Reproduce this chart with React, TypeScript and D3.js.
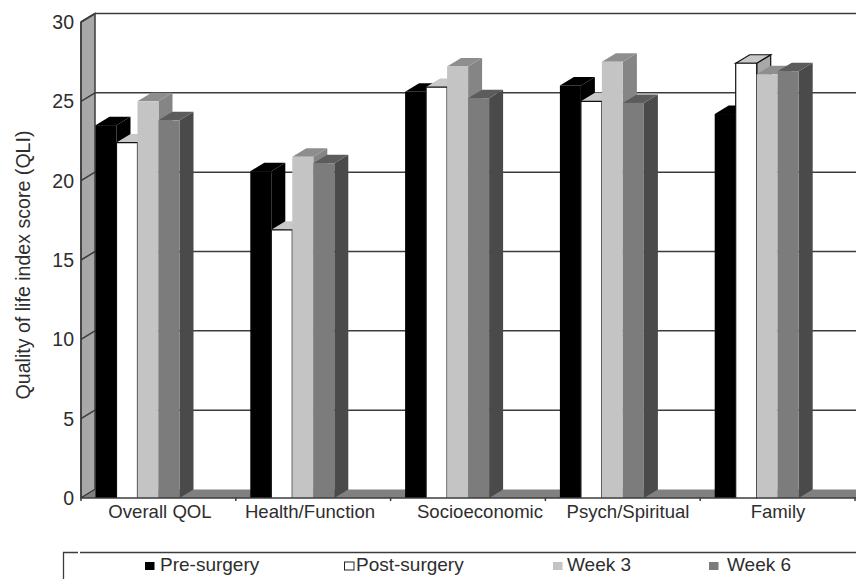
import React from 'react';
import * as d3 from 'd3';

// Quality of life index scores by domain and assessment time
const categories = ['Overall QOL', 'Health/Function', 'Socioeconomic', 'Psych/Spiritual', 'Family'];
const seriesNames = ['Pre-surgery', 'Post-surgery', 'Week 3', 'Week 6'];
const preSurgery = [23.5, 20.6, 25.6, 26.0, 24.2];
const postSurgery = [22.4, 16.9, 25.9, 25.0, 27.4];
const week3 = [25.0, 21.5, 27.2, 27.5, 26.7];
const week6 = [23.8, 21.1, 25.2, 24.9, 26.9];
const yTicks = [0, 5, 10, 15, 20, 25, 30];
const seriesValues = [preSurgery, postSurgery, week3, week6];

const fronts = ['#000000', '#ffffff', '#c4c4c4', '#7c7c7c'];
const tops = ['#000000', '#c8c8c8', '#8e8e8e', '#5c5c5c'];
const sides = ['#000000', '#a8a8a8', '#858585', '#4a4a4a'];
const legendFills = ['#000000', '#ffffff', '#c4c4c4', '#7c7c7c'];
const legendX = [145, 344.5, 553, 709];
const legendTextX = [160, 356, 567, 727];
const labelCenters = [160, 310, 480, 628, 778];

const FONT = '"Liberation Sans", Arial, sans-serif';
const TEXT = '#2e2e2e';
const LINE = '#3c3c3c';

const depthX = 14;
const depthY = -8.5;
const left = 81;
const right = 855;
const baseY = 498;
const topY = 22;
const barW = 21;
const barInset = 14.5;

const y = d3.scaleLinear().domain([0, 30]).range([baseY, topY]);
const x = d3.scaleBand<string>().domain(categories).range([left, right]).padding(0);
const poly = (pts: [number, number][]) => (d3.line()(pts) ?? '') + 'Z';

export default function App() {
  return (
    <svg
      width={856}
      height={579}
      style={{ position: 'absolute', left: 0, top: 0, background: '#fff' }}
      fontFamily={FONT}
    >
      {/* side wall */}
      <path
        d={poly([[left, y(30)], [left + depthX, y(30) + depthY], [left + depthX, baseY + depthY], [left, baseY]])}
        fill="#a8a8a8"
        stroke={LINE}
        strokeWidth={1.5}
      />
      {/* floor */}
      <path
        d={poly([[left, baseY], [left + depthX, baseY + depthY], [856, baseY + depthY], [856, baseY]])}
        fill="#808080"
      />
      {/* back wall grid */}
      {yTicks.filter((t) => t > 0).map((t) => (
        <g key={t}>
          <line x1={left + depthX} x2={856} y1={y(t) + depthY} y2={y(t) + depthY} stroke={LINE} strokeWidth={1.5} />
          <line x1={left} x2={left + depthX} y1={y(t)} y2={y(t) + depthY} stroke={LINE} strokeWidth={1.5} />
        </g>
      ))}
      <line x1={left} x2={left + depthX} y1={baseY} y2={baseY + depthY} stroke={LINE} strokeWidth={1} />
      {/* bars */}
      {categories.map((c, ci) => (
        <g key={c}>
          {seriesValues.map((vals, si) => {
            const x0 = (x(c) ?? 0) + barInset + si * barW;
            const x1 = x0 + barW;
            const t = y(vals[ci]);
            const isPost = si === 1;
            // The post-surgery bar is only fully outlined where it stands above its neighbour
            const stands = isPost && vals[ci] > seriesValues[si + 1][ci];
            const stroke3d = stands ? '#111' : 'none';
            return (
              <g key={si}>
                <path
                  d={poly([[x1, t], [x1 + depthX, t + depthY], [x1 + depthX, baseY + depthY], [x1, baseY]])}
                  fill={sides[si]}
                  stroke={stroke3d}
                  strokeWidth={1.2}
                />
                <path
                  d={poly([[x0, t], [x0 + depthX, t + depthY], [x1 + depthX, t + depthY], [x1, t]])}
                  fill={tops[si]}
                  stroke={stroke3d}
                  strokeWidth={1.2}
                />
                <rect x={x0} y={t} width={barW} height={baseY - t} fill={fronts[si]} />
                {isPost && (
                  <path
                    d={`M${x0},${baseY}V${t}H${x1}V${baseY}`}
                    fill="none"
                    stroke="#111"
                    strokeWidth={1.2}
                  />
                )}
              </g>
            );
          })}
        </g>
      ))}
      {/* axes */}
      <line x1={left} x2={856} y1={baseY} y2={baseY} stroke={LINE} strokeWidth={1.5} />
      <line x1={left} x2={left} y1={y(30)} y2={baseY + 3} stroke={LINE} strokeWidth={1.5} />
      {categories.map((c) => (
        <line key={c} x1={(x(c) ?? 0) + x.bandwidth()} x2={(x(c) ?? 0) + x.bandwidth()} y1={baseY} y2={baseY + 3} stroke={LINE} strokeWidth={1.5} />
      ))}
      {yTicks.map((t) => (
        <text key={t} x={74} y={y(t) + 7} textAnchor="end" fontSize={19.5} fill={TEXT}>
          {t}
        </text>
      ))}
      {categories.map((c, i) => (
        <text key={c} x={labelCenters[i]} y={518} textAnchor="middle" fontSize={18.6} fill={TEXT}>
          {c}
        </text>
      ))}
      <text transform="translate(30,265) rotate(-90)" textAnchor="middle" fontSize={19.6} fill={TEXT}>
        Quality of life index score (QLI)
      </text>
      {/* legend */}
      <path d="M78,552.5H63.5V579" fill="none" stroke={LINE} strokeWidth={1.3} />
      <line x1={80} x2={856} y1={552.5} y2={552.5} stroke={LINE} strokeWidth={1.3} />
      {seriesNames.map((s, i) => (
        <g key={s}>
          <rect
            x={legendX[i]}
            y={562}
            width={9.5}
            height={8}
            fill={legendFills[i]}
            stroke={i === 1 ? '#222' : 'none'}
            strokeWidth={1}
          />
          <text x={legendTextX[i]} y={570.5} fontSize={19} fill={TEXT}>
            {s}
          </text>
        </g>
      ))}
    </svg>
  );
}
